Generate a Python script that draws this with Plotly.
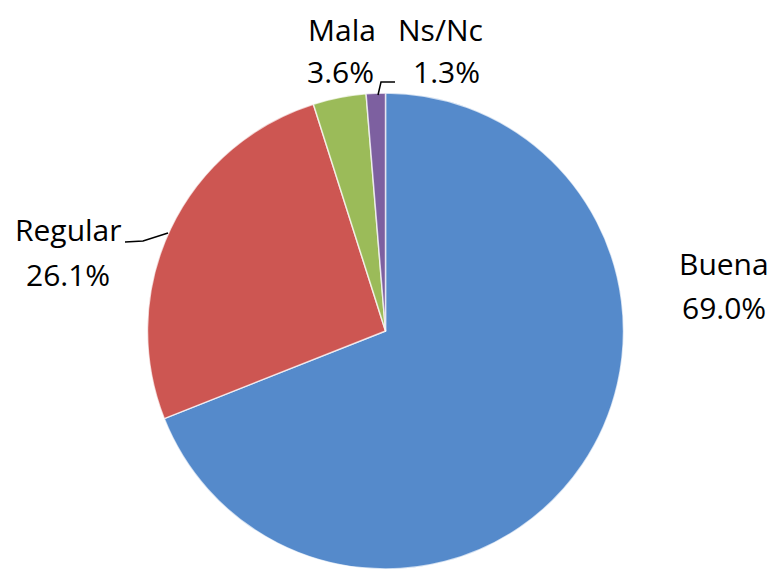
import plotly.graph_objects as go

categories = ["Buena", "Regular", "Mala", "Ns/Nc"]
values = [69.0, 26.1, 3.6, 1.3]
colors = ["#558ACB", "#CD5652", "#9BBB59", "#7D60A0"]

# page body has an 8px margin; figure sized so the page fits the 779x577 window
OFF = 8
W, H = 779 - 2 * OFF, 577 - 2 * OFF


def pxx(x):
    return (x - OFF) / W


def pxy(y):
    return 1 - (y - OFF) / H


fig = go.Figure()
fig.add_trace(go.Pie(
    labels=categories,
    values=values,
    sort=False,
    direction="clockwise",
    rotation=0,
    marker=dict(colors=colors, line=dict(color="rgba(255,255,255,0.7)", width=1.5)),
    textinfo="none",
    hoverinfo="label+percent",
    showlegend=False,
    domain=dict(x=[pxx(145), pxx(626)], y=[0, pxy(93)]),
))

# label positions (pixels): x name, x percent, y name, y percent
label_pos = {
    "Buena": (724, 724, 263, 307),
    "Regular": (68, 68, 229, 274),
    "Mala": (342, 340, 29, 71),
    "Ns/Nc": (440, 446, 29, 71),
}
fnt = dict(family="Open Sans, Liberation Sans, sans-serif", size=30, color="#000000")
for cat, val in zip(categories, values):
    x1, x2, y1, y2 = label_pos[cat]
    fig.add_annotation(x=pxx(x1), y=pxy(y1), xref="paper", yref="paper",
                       text=cat, showarrow=False, font=fnt, borderpad=0,
                       xanchor="center", yanchor="middle")
    fig.add_annotation(x=pxx(x2), y=pxy(y2), xref="paper", yref="paper",
                       text=f"{val:.1f}%", showarrow=False, font=fnt, borderpad=0,
                       xanchor="center", yanchor="middle")

# leader lines
leaders = [
    [(125, 242), (143, 241), (168, 233)],
    [(378, 95), (381, 82), (395, 82)],
]
for pts in leaders:
    path = "M " + " L ".join(f"{pxx(a)},{pxy(b)}" for a, b in pts)
    fig.add_shape(type="path", path=path, xref="paper", yref="paper",
                  line=dict(color="#000000", width=1.5))

fig.update_layout(
    width=W, height=H,
    margin=dict(l=0, r=0, t=0, b=0),
    paper_bgcolor="white",
    plot_bgcolor="white",
)

fig.write_html("out.html")
